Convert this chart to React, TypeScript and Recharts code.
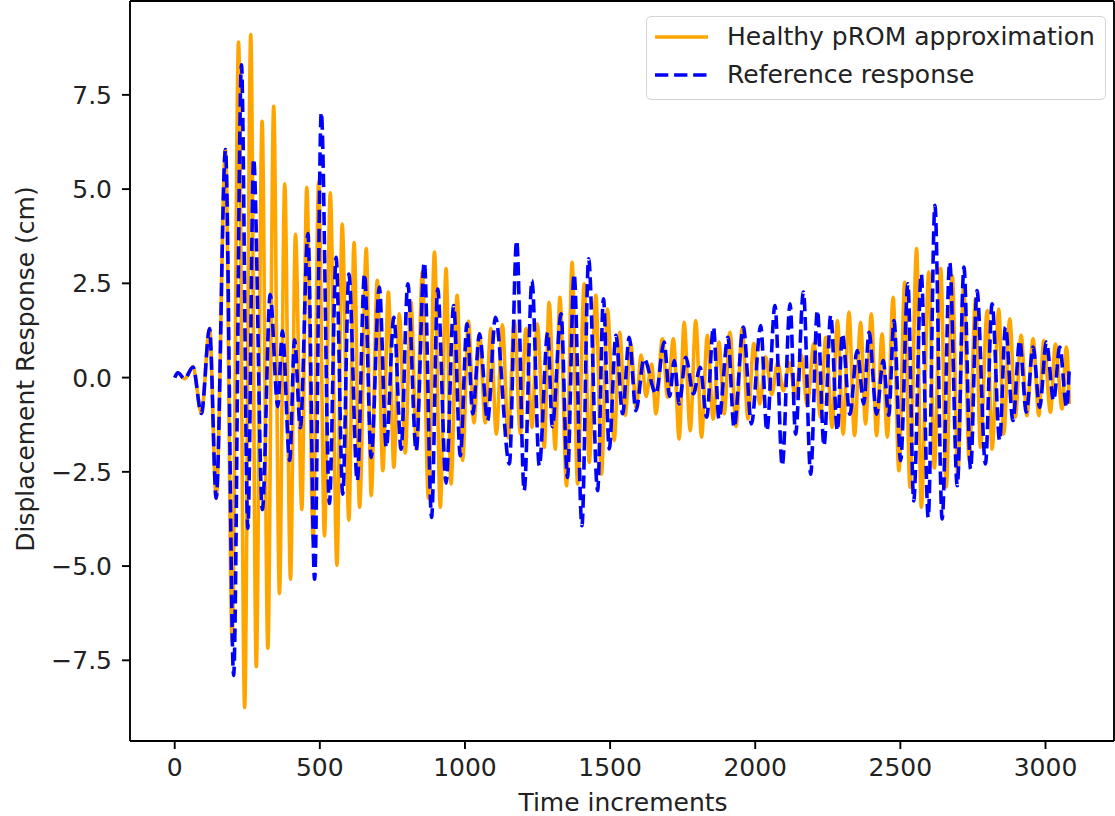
import { LineChart, Line, XAxis, YAxis, Legend, ReferenceLine } from 'recharts';

const FONT = '"DejaVu Sans", sans-serif';
const FS = 25;

// shared start of both responses (before they separate)
const onsetT = [0, 11, 34, 63, 92, 120, 143, 175];
const onsetY = [0, 0.13, -0.03, 0.28, -0.95, 1.3, -3.2, 6.05];

// Healthy pROM approximation: turning points (time increment, cm)
const healthyT = [
  198, 220, 241, 262, 281, 301, 321, 341, 361, 379, 399, 416, 438, 455, 477, 496, 516, 536, 559, 577,
  600, 618, 637, 660, 677, 698, 717, 736, 755, 774, 794, 814, 833, 853, 874, 895, 915, 935, 952, 973,
  992, 1012, 1031, 1050, 1070, 1089, 1108, 1129, 1149, 1170, 1191, 1210, 1231, 1249, 1273, 1290, 1311, 1327, 1350, 1369,
  1388, 1411, 1428, 1451, 1470, 1491, 1514, 1533, 1552, 1571, 1590, 1607, 1624, 1643, 1658, 1680, 1698, 1718, 1738, 1755,
  1776, 1795, 1815, 1835, 1855, 1875, 1893, 1913, 1934, 1955, 1975, 1995, 2016, 2036, 2057, 2077, 2097, 2118, 2138, 2159,
  2179, 2202, 2225, 2243, 2265, 2283, 2303, 2323, 2342, 2363, 2380, 2400, 2418, 2437, 2455, 2475, 2495, 2515, 2533, 2556,
  2572, 2598, 2617, 2639, 2658, 2679, 2698, 2718, 2737, 2759, 2776, 2799, 2816, 2839, 2856, 2877, 2896, 2916, 2936, 2957,
  2977, 2994, 3017, 3034, 3057, 3072, 3082,
];
const healthyY = [
  -7.0, 8.9, -8.75, 9.1, -7.67, 6.8, -7.18, 7.2, -5.73, 5.14, -5.35, 3.8, -3.5, 5.05, -4.3, 5.2, -4.2, 4.9, -4.98, 4.07,
  -3.78, 3.58, -3.44, 3.42, -3.13, 2.58, -2.47, 2.27, -2.38, 1.69, -2.0, 2.0, -1.9, 2.8, -3.2, 3.33, -3.44, 2.89, -2.82, 2.18,
  -2.2, 1.5, -1.2, 1.16, -1.2, 1.3, -1.5, 1.4, -1.6, 1.5, -1.5, 1.3, -1.32, 1.43, -1.85, 2.0, -1.9, 2.13, -2.87, 3.06,
  -2.82, 2.49, -2.25, 2.18, -2.56, 1.82, -1.67, 1.2, -1.0, 0.9, -0.8, 0.6, -0.5, 0.36, -0.96, 1.03, -0.52, 1.03, -1.63, 1.47,
  -1.41, 1.51, -1.58, 1.12, -1.1, 0.94, -0.96, 1.2, -1.3, 1.3, -1.1, 0.9, -0.7, 0.55, -0.45, 0.4, -0.35, 0.4, -0.5, 0.6,
  -0.75, 0.9, -1.05, 1.07, -1.32, 1.51, -1.5, 1.74, -1.54, 1.47, -1.23, 1.69, -1.54, 1.16, -1.58, 2.13, -2.47, 2.53, -2.91, 3.42,
  -3.44, 2.8, -2.4, 2.9, -2.9, 2.7, -2.6, 2.4, -2.2, 2.09, -1.85, 1.78, -1.9, 1.82, -1.5, 1.56, -1.05, 1.12, -1.01, 1.03,
  -1.01, 0.98, -0.92, 0.89, -0.83, 0.81, -0.7,
];

// Reference response: turning points (time increment, cm)
const referenceT = [
  203, 230, 252, 272, 302, 329, 355, 371, 396, 413, 433, 459, 482, 505, 533, 556, 579, 600, 629, 654,
  677, 705, 729, 755, 780, 803, 832, 860, 885, 906, 935, 961, 984, 1007, 1027, 1050, 1078, 1105, 1153, 1178,
  1204, 1231, 1256, 1285, 1301, 1331, 1353, 1376, 1403, 1426, 1457, 1477, 1497, 1520, 1543, 1566, 1589, 1617, 1658, 1686,
  1705, 1721, 1738, 1761, 1787, 1810, 1833, 1856, 1875, 1906, 1927, 1959, 1987, 2019, 2040, 2068, 2093, 2120, 2139, 2166,
  2191, 2214, 2237, 2260, 2283, 2300, 2326, 2351, 2374, 2392, 2418, 2441, 2460, 2478, 2501, 2526, 2546, 2572, 2596, 2619,
  2644, 2670, 2696, 2719, 2742, 2764, 2793, 2816, 2842, 2862, 2888, 2911, 2934, 2957, 2980, 3003, 3028, 3049, 3073, 3082,
];
const referenceY = [
  -7.9, 8.3, -4.0, 5.8, -3.5, 2.2, -0.77, 1.24, -2.2, 1.0, -1.33, 3.82, -5.35, 7.03, -3.34, 3.19, -3.09, 2.75, -2.74, 2.75,
  -2.12, 2.4, -1.85, 1.6, -1.9, 2.49, -1.94, 3.06, -3.71, 2.35, -2.8, 1.91, -2.07, 1.43, -0.96, 1.16, -1.14, 1.6, -2.29, 3.64,
  -3.0, 2.58, -2.34, 1.2, -1.3, 1.69, -2.65, 2.75, -3.93, 3.15, -3.0, 2.09, -1.89, 1.12, -0.96, 1.07, -0.88, 0.5, -0.43, 0.94,
  -0.5, 0.45, -0.7, 0.54, -0.43, 0.27, -1.05, 1.34, -1.1, 1.07, -1.32, 1.34, -1.23, 1.38, -1.41, 1.91, -2.34, 1.96, -1.5, 2.27,
  -2.56, 1.78, -1.81, 1.65, -1.41, 1.16, -0.97, 0.72, -0.7, 1.2, -0.97, 0.45, -1.0, 1.51, -2.2, 2.49, -3.27, 2.75, -3.71, 4.57,
  -3.75, 3.06, -2.87, 2.93, -2.43, 2.31, -2.29, 1.96, -1.67, 1.34, -1.14, 0.98, -0.92, 0.81, -0.79, 0.94, -0.61, 0.81, -0.79, 0.3,
];

const xTicks = [0, 500, 1000, 1500, 2000, 2500, 3000];
const yTicks = [-7.5, -5, -2.5, 0, 2.5, 5, 7.5];

const X_DOMAIN: [number, number] = [-154, 3236];
const Y_DOMAIN: [number, number] = [-9.64, 9.99];

const toPoints = (t: number[], y: number[]) => t.map((tt, i) => ({ t: tt, y: y[i] }));
const healthyData = toPoints([...onsetT, ...healthyT], [...onsetY, ...healthyY]);
const referenceData = toPoints([...onsetT, ...referenceT], [...onsetY, ...referenceY]);

const ORANGE = '#ffa500';
const BLUE = '#0000ff';
const DASH = '13.3 5.8';

const fmtY = (v: number) => (v < 0 ? '\u2212' : '') + Math.abs(v).toFixed(1);

const XTick = (props: any) => (
  <text x={props.x} y={776} textAnchor="middle" fontFamily={FONT} fontSize={FS} fill="#222">
    {props.payload.value}
  </text>
);

const YTick = (props: any) => (
  <text x={112} y={props.y + 9} textAnchor="end" fontFamily={FONT} fontSize={FS} fill="#222">
    {fmtY(props.payload.value)}
  </text>
);

const legendItems = [
  { label: 'Healthy pROM approximation', color: ORANGE, dash: undefined as string | undefined },
  { label: 'Reference response', color: BLUE, dash: DASH },
];

const renderLegend = () => (
  <div
    style={{
      position: 'relative',
      boxSizing: 'border-box',
      width: 460,
      height: 84,
      border: '1.5px solid #d4d4d4',
      borderRadius: 5,
      background: 'rgba(255,255,255,0.8)',
      fontFamily: FONT,
      fontSize: FS,
      color: '#222',
    }}
  >
    {legendItems.map((item, i) => (
      <div key={item.label}>
        <svg width={70} height={36} style={{ position: 'absolute', left: 0, top: 2 + i * 38 }}>
          <line x1={8} x2={61} y1={18} y2={18} stroke={item.color} strokeWidth={3.6} strokeDasharray={item.dash} />
        </svg>
        <span style={{ position: 'absolute', left: 80, top: 2 + i * 38, lineHeight: '36px', whiteSpace: 'nowrap' }}>
          {item.label}
        </span>
      </div>
    ))}
  </div>
);

export default function App() {
  return (
    <div style={{ position: 'absolute', left: 0, top: 0, background: '#fff' }}>
      <LineChart width={1115} height={816} margin={{ top: 1, right: 1, bottom: 0, left: 0 }}>
        <XAxis
          type="number"
          dataKey="t"
          domain={X_DOMAIN}
          ticks={xTicks}
          allowDataOverflow
          height={75}
          tickSize={8}
          axisLine={{ stroke: '#000', strokeWidth: 1.9 }}
          tickLine={{ stroke: '#000', strokeWidth: 1.9 }}
          tick={XTick}
          label={{
            content: () => (
              <text x={623} y={811} textAnchor="middle" fontFamily={FONT} fontSize={FS} fill="#222">
                Time increments
              </text>
            ),
          }}
        />
        <YAxis
          type="number"
          domain={Y_DOMAIN}
          ticks={yTicks}
          allowDataOverflow
          width={130}
          tickSize={8}
          axisLine={{ stroke: '#000', strokeWidth: 1.9 }}
          tickLine={{ stroke: '#000', strokeWidth: 1.9 }}
          tick={YTick}
          label={{
            content: () => (
              <text
                x={34}
                y={369}
                transform="rotate(-90 34 369)"
                textAnchor="middle"
                fontFamily={FONT}
                fontSize={FS}
                fill="#222"
              >
                Displacement Response (cm)
              </text>
            ),
          }}
        />
        <ReferenceLine y={Y_DOMAIN[1]} stroke="#000" strokeWidth={1.9} />
        <ReferenceLine x={X_DOMAIN[1]} stroke="#000" strokeWidth={1.9} />
        <Line
          name="Healthy pROM approximation"
          data={healthyData}
          dataKey="y"
          type="monotone"
          stroke={ORANGE}
          strokeWidth={3.6}
          dot={false}
          isAnimationActive={false}
        />
        <Line
          name="Reference response"
          data={referenceData}
          dataKey="y"
          type="monotone"
          stroke={BLUE}
          strokeWidth={3.6}
          strokeDasharray={DASH}
          dot={false}
          isAnimationActive={false}
        />
        <Legend
          layout="horizontal"
          align="center"
          verticalAlign="middle"
          content={renderLegend}
          wrapperStyle={{ left: 646, top: 16, width: 460, height: 84 }}
        />
      </LineChart>
    </div>
  );
}
